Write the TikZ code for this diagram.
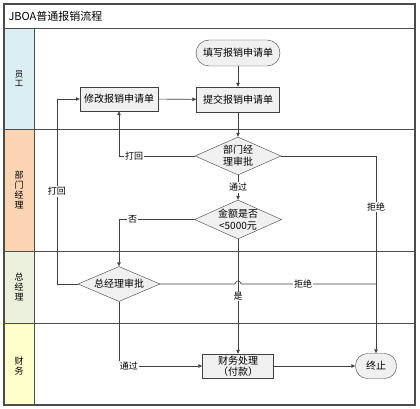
\documentclass[tikz,border=0pt]{standalone}
\usepackage{fontspec}
\newfontfamily\cjk{Noto Sans CJK SC}
\usepackage{tikz}
\usetikzlibrary{arrows.meta,shapes.geometric}
\usepackage{xcolor}
\definecolor{staffbg}{HTML}{DAEEF3}
\definecolor{deptbg}{HTML}{FBD4B4}
\definecolor{gmbg}{HTML}{EBF1DD}
\definecolor{finbg}{HTML}{FFFFCC}
\definecolor{edge}{HTML}{404040}

\begin{document}
\begin{tikzpicture}[x=1pt,y=-1pt,>={Triangle[length=4pt,width=3.5pt]},font=\cjk\fontsize{10}{12}\selectfont,
  frame/.style={draw=gray!60!black,line width=0.9pt},
  box/.style={draw=edge,fill=gray!12,minimum width=78pt,minimum height=24pt,inner sep=1pt},
  term/.style={box,rounded corners=12pt},
  decide/.style={draw=edge,fill=gray!12,diamond,aspect=2.2,inner sep=-3pt,align=center},
  flow/.style={draw=edge,line width=0.6pt},
  tag/.style={fill=white,inner sep=1pt,font=\cjk\fontsize{9}{11}\selectfont},
  lane/.style={align=center,font=\cjk\fontsize{9}{10}\selectfont}]
\useasboundingbox (0,0) rectangle (420,409);
% swim lanes
\fill[staffbg] (4,28) rectangle (34,129);
\fill[deptbg] (4,129) rectangle (34,251);
\fill[gmbg] (4,251) rectangle (34,323);
\fill[finbg] (4,323) rectangle (34,405);
\foreach \y in {28,129,251,323} \draw[frame] (4,\y) -- (415,\y);
\draw[frame] (34,28) -- (34,405);
\draw[frame,line width=1.3pt] (4,4) rectangle (415,405);
\node[anchor=west,font=\cjk\fontsize{11}{13}\selectfont] (title) at (5,16) {JBOA普通报销流程};
\node[lane,font=\cjk\fontsize{8.5}{9}\selectfont] (staff) at (19,79) {员\\工};
\node[lane] (dept) at (19,190) {部\\门\\经\\理};
\node[lane] (boss) at (19,287) {总\\经\\理};
\node[lane] (finance) at (19,366) {财\\务};
% steps
\node[term,minimum width=84pt,minimum height=26pt,rounded corners=13pt] (fill) at (238,53) {填写报销申请单};
\node[box,minimum width=83pt,minimum height=25pt] (submit) at (238,99.5) {提交报销申请单};
\node[box] (modify) at (119,99) {修改报销申请单};
\node[decide,minimum width=86pt,minimum height=38pt] (check) at (238,156) {部门经\\理审批};
\node[decide,minimum width=87pt,minimum height=39pt] (amount) at (238,219.5) {金额是否\\<5000元};
\node[decide,minimum width=82pt,minimum height=35pt] (gm) at (119,284) {总经理审批};
\node[box,minimum width=71pt,minimum height=24pt,inner sep=0pt,align=center,font=\cjk\fontsize{10}{11}\selectfont] (pay) at (238,366) {财务处理\\（付款）};
\node[term,minimum width=41pt,minimum height=25pt,rounded corners=12pt] (end) at (376,366) {终止};
\coordinate (cross) at (amount.south |- gm.east);
% connectors
\draw[flow,->] (fill) -- (submit);
\draw[flow,->] (modify) -- (submit);
\draw[flow,->] (submit) -- (check);
\draw[flow,->] (check.west) -| node[tag,pos=0.4]{打回} (modify.south);
\draw[flow,->] (check) -- node[tag]{通过} (amount);
\draw[flow,->] (check.east) -| node[tag,pos=0.63]{拒绝} (end.north);
\draw[flow,->] (amount.west) -| node[tag,pos=0.41]{否} (gm.north);
\draw[flow,->] (amount) -- node[tag]{是} (pay);
\draw[flow,->] (gm.west) -- ++(-21,0) |- node[tag,pos=0.25]{打回} (modify.west);
\draw[flow] (gm.east) -- ([xshift=-3pt]cross) arc[start angle=180,end angle=0,radius=3pt] -- node[tag,pos=0.46]{拒绝} (end.north |- gm.east);
\draw[flow,->] (gm.south) |- node[tag,pos=0.56]{通过} (pay.west);
\draw[flow,->] (pay) -- (end);
\end{tikzpicture}
\end{document}
